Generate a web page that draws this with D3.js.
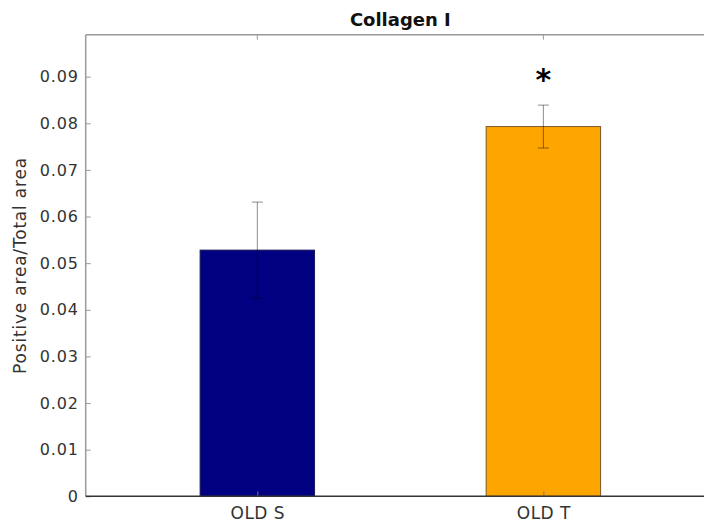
<!DOCTYPE html>
<html>
<head>
<meta charset="utf-8">
<script src="https://cdn.jsdelivr.net/npm/d3@7"></script>
<style>
  body { margin: 0; background: #fff; }
  svg text { font-family: "DejaVu Sans", Arial, sans-serif; }
</style>
</head>
<body>
<svg id="chart" width="704" height="527"></svg>
<script>
// data
var groups = ["OLD S", "OLD T"];
var means = [0.0528, 0.0793];
var errs = [0.0103, 0.0046];
var barColors = ["#000080", "#FFA500"];
var edgeColors = ["#1a1a5a", "#7a5a2a"];
var signif = ["", "*"];
var yTicks = [0, 0.01, 0.02, 0.03, 0.04, 0.05, 0.06, 0.07, 0.08, 0.09];

var svg = d3.select("#chart"),
    margin = {top: 34.7, right: -11, bottom: 30.7, left: 85.7},
    width = +svg.attr("width") - margin.left - margin.right,
    height = +svg.attr("height") - margin.top - margin.bottom;

var g = svg.append("g").attr("transform", "translate(" + margin.left + "," + margin.top + ")");

// matlab style positions 1..n, xlim 0.4..2.6
var x = d3.scaleLinear().domain([0.4, 2.6]).range([0, width]);
var y = d3.scaleLinear().domain([0, 0.099]).range([height, 0]);
var barW = x(1.4) - x(1);

// bars
g.selectAll(".bar")
    .data(means)
  .enter().append("rect")
    .attr("class", "bar")
    .attr("x", function(d, i) { return x(i + 1) - barW / 2; })
    .attr("y", function(d) { return y(d); })
    .attr("width", barW)
    .attr("height", function(d) { return height - y(d); })
    .attr("fill", function(d, i) { return barColors[i]; })
    .attr("stroke", function(d, i) { return edgeColors[i]; })
    .attr("stroke-width", 1);

// error bars
var eb = g.selectAll(".err")
    .data(means)
  .enter().append("g")
    .attr("class", "err")
    .attr("stroke", "rgba(0,0,0,0.45)")
    .attr("stroke-width", 1);

eb.append("line")
    .attr("x1", function(d, i) { return x(i + 1); })
    .attr("x2", function(d, i) { return x(i + 1); })
    .attr("y1", function(d, i) { return y(d - errs[i]); })
    .attr("y2", function(d, i) { return y(d + errs[i]); });
eb.append("line")
    .attr("x1", function(d, i) { return x(i + 1) - 5.5; })
    .attr("x2", function(d, i) { return x(i + 1) + 5.5; })
    .attr("y1", function(d, i) { return y(d + errs[i]); })
    .attr("y2", function(d, i) { return y(d + errs[i]); });
eb.append("line")
    .attr("x1", function(d, i) { return x(i + 1) - 5.5; })
    .attr("x2", function(d, i) { return x(i + 1) + 5.5; })
    .attr("y1", function(d, i) { return y(d - errs[i]); })
    .attr("y2", function(d, i) { return y(d - errs[i]); });

// significance stars
g.selectAll(".star")
    .data(signif)
  .enter().append("text")
    .attr("class", "star")
    .attr("x", function(d, i) { return x(i + 1); })
    .attr("y", function(d, i) { return y(means[i] + errs[i]) - 15; })
    .attr("text-anchor", "middle")
    .attr("font-family", "Liberation Sans, Arial, sans-serif")
    .attr("font-size", "30px")
    .attr("font-weight", "bold")
    .attr("fill", "#000")
    .text(function(d) { return d; });

// y axis
var yAxis = g.append("g")
    .attr("class", "axis axis--y")
    .call(d3.axisLeft(y).tickValues(yTicks).tickSize(-5).tickPadding(7)
      .tickFormat(function(d) { return d === 0 ? "0" : d3.format(".2f")(d); }));
yAxis.select(".domain").remove();
yAxis.selectAll(".tick line").attr("stroke", "#999");
yAxis.selectAll(".tick text").attr("font-size", "16px").attr("letter-spacing", "0.8px").attr("fill", "#333");

g.append("line")
    .attr("x1", 0).attr("x2", 0).attr("y1", 0).attr("y2", height)
    .attr("stroke", "#9a9a9a").attr("stroke-width", 1.5);

// top border + ticks
g.append("line")
    .attr("x1", 0).attr("x2", width).attr("y1", 0).attr("y2", 0)
    .attr("stroke", "#9a9a9a").attr("stroke-width", 1.5);
g.selectAll(".ttick")
    .data(groups)
  .enter().append("line")
    .attr("x1", function(d, i) { return x(i + 1); })
    .attr("x2", function(d, i) { return x(i + 1); })
    .attr("y1", 0).attr("y2", 5)
    .attr("stroke", "#999");

// x axis
var xAxis = g.append("g")
    .attr("class", "axis axis--x")
    .attr("transform", "translate(0," + height + ")")
    .call(d3.axisBottom(x).tickValues([1, 2]).tickSize(-5).tickPadding(11)
      .tickFormat(function(d) { return groups[d - 1]; }));
xAxis.select(".domain").remove();
xAxis.selectAll(".tick line").attr("stroke", "#777");
xAxis.selectAll(".tick text").attr("font-size", "17px").attr("letter-spacing", "0.5px").attr("fill", "#333");

g.append("line")
    .attr("x1", 0).attr("x2", width).attr("y1", height).attr("y2", height)
    .attr("stroke", "#333").attr("stroke-width", 1.5);

// y label
svg.append("text")
    .attr("transform", "translate(26," + (margin.top + height / 2) + ") rotate(-90)")
    .attr("text-anchor", "middle")
    .attr("font-size", "17px")
    .attr("letter-spacing", "0.8px")
    .attr("fill", "#333")
    .text("Positive area/Total area");

// title
svg.append("text")
    .attr("x", margin.left + width / 2)
    .attr("y", 26)
    .attr("text-anchor", "middle")
    .attr("font-family", "Liberation Sans, Arial, sans-serif")
    .attr("font-size", "18px")
    .attr("font-weight", "bold")
    .attr("fill", "#111")
    .text("Collagen I");
</script>
</body>
</html>
